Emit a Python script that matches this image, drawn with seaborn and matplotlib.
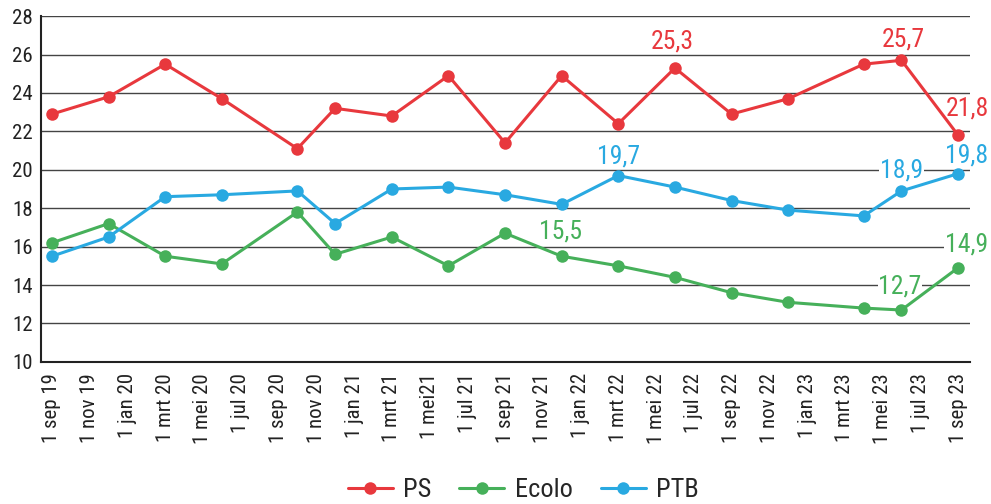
import matplotlib
matplotlib.use("Agg")
import matplotlib.pyplot as plt
from matplotlib import font_manager
from matplotlib.lines import Line2D
import seaborn as sns
import pandas as pd
import numpy as np

# months since 1 sep 2019
months = [0, 3, 6, 9, 13, 15, 18, 21, 24, 27, 30, 33, 36, 39, 43, 45, 48]
ps = [22.9, 23.8, 25.5, 23.7, 21.1, 23.2, 22.8, 24.9, 21.4, 24.9, 22.4, 25.3, 22.9, 23.7, 25.5, 25.7, 21.8]
ecolo = [16.2, 17.2, 15.5, 15.1, 17.8, 15.6, 16.5, 15.0, 16.7, 15.5, 15.0, 14.4, 13.6, 13.1, 12.8, 12.7, 14.9]
ptb = [15.5, 16.5, 18.6, 18.7, 18.9, 17.2, 19.0, 19.1, 18.7, 18.2, 19.7, 19.1, 18.4, 17.9, 17.6, 18.9, 19.8]

tick_labels = ["1 sep 19", "1 nov 19", "1 jan 20", "1 mrt 20", "1 mei 20", "1 jul 20",
               "1 sep 20", "1 nov 20", "1 jan 21", "1 mrt 21", "1 mei21", "1 jul 21",
               "1 sep 21", "1 nov 21", "1 jan 22", "1 mrt 22", "1 mei 22", "1 jul 22",
               "1 sep 22", "1 nov 22", "1 jan 23", "1 mrt 23", "1 mei 23", "1 jul 23",
               "1 sep 23"]

series = ["PS", "Ecolo", "PTB"]
colors = {"PS": "#E8383D", "Ecolo": "#46B05A", "PTB": "#29A9E1"}

# labelled points: (series, index)
labels = [("PS", 11), ("PS", 15), ("PS", 16), ("PTB", 10), ("PTB", 15), ("PTB", 16),
          ("Ecolo", 9), ("Ecolo", 15), ("Ecolo", 16)]

df = pd.DataFrame({
    "month": months * 3,
    "value": ps + ecolo + ptb,
    "party": ["PS"] * len(ps) + ["Ecolo"] * len(ecolo) + ["PTB"] * len(ptb),
})

sns.set_style("white")

# pick a condensed font if available
family = "DejaVu Sans"
stretch = "normal"
for cand, st in [("Liberation Sans Narrow", "normal"), ("Roboto Condensed", "normal"),
                 ("DejaVu Sans", "condensed")]:
    try:
        fp = font_manager.FontProperties(family=cand, stretch=st)
        path = font_manager.findfont(fp, fallback_to_default=False)
        if st == "condensed" and "Condensed" not in path:
            continue
        family, stretch = cand, st
        break
    except Exception:
        continue
plt.rcParams["font.family"] = [family, "DejaVu Sans"]
plt.rcParams["font.stretch"] = stretch

fig = plt.figure(figsize=(9.91, 5.04), dpi=100)
ax = fig.add_axes([0.0414, 0.282, 0.9376, 0.686])

sns.lineplot(data=df, x="month", y="value", hue="party", hue_order=series,
             palette=colors, marker="o", markersize=9, markeredgewidth=0,
             linewidth=2.2, ax=ax, legend=False, zorder=3)

ax.set_ylim(10, 28)
ax.set_xlim(-0.58, 48.64)
ax.set_yticks(np.arange(10, 29, 2))
ax.yaxis.grid(True, color="#444444", linewidth=1.0)
ax.set_axisbelow(True)
ax.set_xticks(np.arange(0, 49, 2))
ax.set_xticklabels(tick_labels, rotation=90, fontsize=15, color="#222222")
ax.tick_params(axis="y", labelsize=15, labelcolor="#222222", length=0, pad=6)
ax.tick_params(axis="x", length=0, pad=8)
ax.set_xlabel("")
ax.set_ylabel("")
for s in ["top", "right"]:
    ax.spines[s].set_visible(False)
ax.spines["left"].set_color("#222222")
ax.spines["bottom"].set_color("#222222")
ax.spines["left"].set_linewidth(1.5)
ax.spines["bottom"].set_linewidth(1.5)

data = {"PS": ps, "Ecolo": ecolo, "PTB": ptb}
# offsets in points (dx, dy to baseline)
offsets = {
    ("PS", 11): (-2, 14),
    ("PS", 15): (1, 10),
    ("PS", 16): (7, 14),
    ("PTB", 10): (0, 9),
    ("PTB", 15): (0, 10),
    ("PTB", 16): (6, 8),
    ("Ecolo", 9): (-1, 13),
    ("Ecolo", 15): (-1, 12),
    ("Ecolo", 16): (6, 12),
}
for s, i in labels:
    dx, dy = offsets[(s, i)]
    txt = f"{data[s][i]:.1f}".replace(".", ",")
    ax.annotate(txt, (months[i], data[s][i]), xytext=(dx, dy), textcoords="offset points",
                ha="center", va="baseline", fontsize=18.5, color=colors[s], zorder=2,
                bbox=dict(boxstyle="square,pad=0.03", fc="white", ec="none"),
                annotation_clip=False)

handles = [Line2D([0], [0], color=colors[s], lw=2.2, marker="o", markersize=9,
                  markeredgewidth=0) for s in series]
fig.legend(handles, series, loc="center", bbox_to_anchor=(0.528, 0.028), ncol=3,
           frameon=False, fontsize=19, handlelength=1.7, columnspacing=1.06,
           handletextpad=0.4, borderaxespad=0, borderpad=0)

fig.savefig("out.png", dpi=100)
